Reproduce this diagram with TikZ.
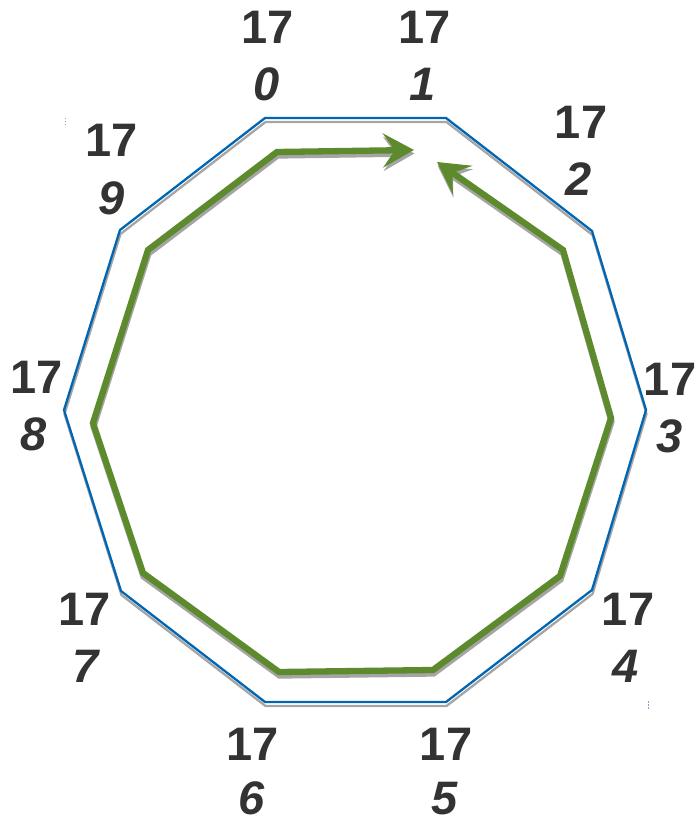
\documentclass[tikz,border=0pt]{standalone}
\usepackage{fontspec}
\setmainfont{Liberation Sans}
\usetikzlibrary{arrows.meta}
\definecolor{polyblue}{RGB}{0,102,180}
\definecolor{shadowgray}{RGB}{165,165,165}
\definecolor{pathgreen}{RGB}{94,138,46}
\definecolor{labelgray}{RGB}{51,51,51}
\definecolor{tickblue}{RGB}{120,170,215}
\tikzset{
  numlabel/.style={anchor=base, inner sep=0pt, text=labelgray, font=\fontsize{47}{47}\selectfont\bfseries},
  idxlabel/.style={anchor=base, inner sep=0pt, text=labelgray, font=\fontsize{47}{47}\selectfont\bfseries\itshape},
  polyline/.style={draw=polyblue, line width=2.3pt, line join=miter},
  polyshadow/.style={draw=shadowgray, line width=2.3pt, line join=miter},
  greenline/.style={draw=pathgreen, line width=6.3pt, line join=miter,
    arrows={Stealth[length=31pt,width=34pt,inset=12pt,fill=pathgreen]-Stealth[length=31pt,width=34pt,inset=12pt,fill=pathgreen]}},
  greenshadow/.style={draw=shadowgray, line width=6.3pt, line join=miter,
    arrows={Stealth[length=31pt,width=34pt,inset=12pt,fill=shadowgray]-Stealth[length=31pt,width=34pt,inset=12pt,fill=shadowgray]}},
  tickmark/.style={draw=tickblue, line width=1pt, dash pattern=on 1.5pt off 1.5pt}
}
\begin{document}
\begin{tikzpicture}[x=1pt,y=-1pt]
\useasboundingbox (0,0) rectangle (698,821);
% decagon vertices
\coordinate (v0) at (265,118);
\coordinate (v1) at (446,118);
\coordinate (v2) at (592,231);
\coordinate (v3) at (646,410);
\coordinate (v4) at (592,590);
\coordinate (v5) at (446,702);
\coordinate (v6) at (265,702);
\coordinate (v7) at (121,591);
\coordinate (v8) at (64,410);
\coordinate (v9) at (120,230);
% green path points
\coordinate (tipa) at (414,150);
\coordinate (g0) at (277,152);
\coordinate (g9) at (148,250);
\coordinate (g8) at (93,423);
\coordinate (g7) at (143,573);
\coordinate (g6) at (279,672);
\coordinate (g5) at (433,670);
\coordinate (g4) at (560,576);
\coordinate (g3) at (611,418);
\coordinate (g2) at (563,250);
\coordinate (tipb) at (437,162);
% decagon shadow and outline
\begin{scope}[transform canvas={xshift=0.5pt,yshift=-4pt}]
\draw[polyshadow] (v0) -- (v1) -- (v2) -- (v3) -- (v4) -- (v5) -- (v6) -- (v7) -- (v8) -- (v9) -- cycle;
\end{scope}
\draw[polyline] (v0) -- (v1) -- (v2) -- (v3) -- (v4) -- (v5) -- (v6) -- (v7) -- (v8) -- (v9) -- cycle;
% green path shadow and path
\begin{scope}[transform canvas={xshift=0.5pt,yshift=-3.5pt}]
\draw[greenshadow] (tipb) -- (g2) -- (g3) -- (g4) -- (g5) -- (g6) -- (g7) -- (g8) -- (g9) -- (g0) -- (tipa);
\end{scope}
\draw[greenline] (tipb) -- (g2) -- (g3) -- (g4) -- (g5) -- (g6) -- (g7) -- (g8) -- (g9) -- (g0) -- (tipa);
% labels
\node[numlabel] (n0) at (268,44) {17};
\node[idxlabel] (i0) at (267,101) {0};
\node[numlabel] (n1) at (425,44) {17};
\node[idxlabel] (i1) at (423,101) {1};
\node[numlabel] (n2) at (581,139) {17};
\node[idxlabel] (i2) at (579,196) {2};
\node[numlabel] (n3) at (670,395) {17};
\node[idxlabel] (i3) at (670,452) {3};
\node[numlabel] (n4) at (628,625) {17};
\node[idxlabel] (i4) at (626,682) {4};
\node[numlabel] (n5) at (446,760) {17};
\node[idxlabel] (i5) at (445,814) {5};
\node[numlabel] (n6) at (253,760) {17};
\node[idxlabel] (i6) at (252,814) {6};
\node[numlabel] (n7) at (85,625) {17};
\node[idxlabel] (i7) at (86,682) {7};
\node[numlabel] (n8) at (37,393) {17};
\node[idxlabel] (i8) at (34,450) {8};
\node[numlabel] (n9) at (112,157) {17};
\node[idxlabel] (i9) at (112,214) {9};
% small blue marks
\coordinate (ma) at (65,118);
\coordinate (mb) at (65,126);
\coordinate (mc) at (648,701);
\coordinate (md) at (648,709);
\draw[tickmark] (ma) -- (mb);
\draw[tickmark] (mc) -- (md);
\end{tikzpicture}
\end{document}
